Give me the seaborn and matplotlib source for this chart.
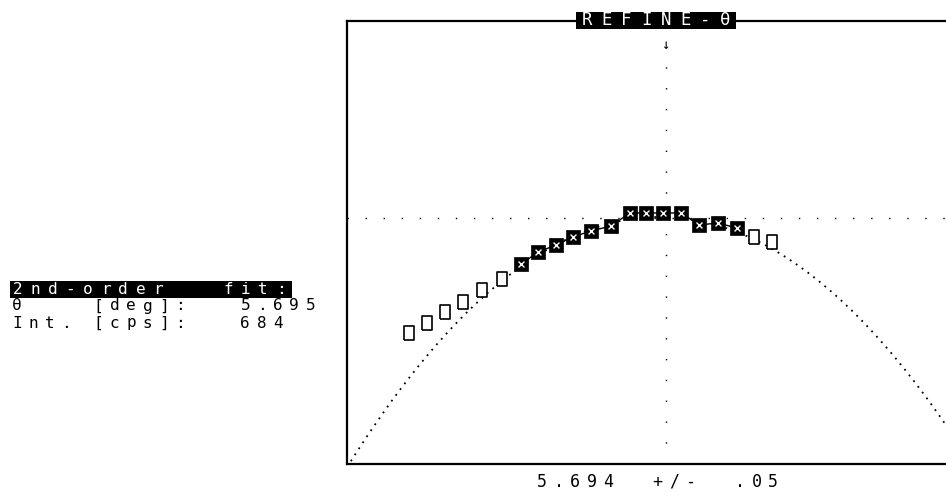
import numpy as np
import pandas as pd
import matplotlib
matplotlib.use("Agg")
import matplotlib.pyplot as plt
import matplotlib.patches as patches
import seaborn as sns

# scan points (theta in deg, intensity in cps)
theta = [5.6544, 5.6574, 5.6604, 5.6634, 5.6665, 5.6699, 5.6731, 5.6759, 5.6789,
         5.6817, 5.6847, 5.6881, 5.6912, 5.6939, 5.6968, 5.6998, 5.7028, 5.7059,
         5.7091, 5.7119, 5.7150]
intensity = [638.0, 642.0, 646.4, 650.4, 655.2, 659.6, 665.6, 670.4, 673.2,
             676.4, 678.8, 680.8, 686.0, 686.0, 686.0, 686.0, 681.2, 682.0,
             680.0, 676.4, 674.4]
in_fit = [False] * 6 + [True] * 13 + [False] * 2

# 2nd-order fit: I = peak - curv * (theta - centre)^2
fit_centre = 5.6963
fit_peak = 684.4
fit_curv = 36600.0

scan_centre = 5.694
scan_half = 0.05
marker_theta = 5.6973
ref_level = 684.0

title_text = "REFINE-θ"
fit_lines = ["2nd-order   fit:", "θ    [deg]:   5.695", "Int. [cps]:   684"]
range_text = "5.694  +/-  .05"

W, H = 946, 493
MONO = ["DejaVu Sans Mono", "DejaVu Sans"]

sns.set_style("white")
plt.rcParams["font.family"] = MONO

fig = plt.figure(figsize=(W / 100, H / 100), dpi=100)
ax = fig.add_axes([347 / W, 1 - 464 / H, (W - 347) / W, (464 - 21) / H])

df = pd.DataFrame({"theta": theta, "cps": intensity, "fit": in_fit})

# fitted curve
grid = np.linspace(scan_centre - scan_half, scan_centre + scan_half, 400)
curve = pd.DataFrame({"theta": grid, "cps": fit_peak - fit_curv * (grid - fit_centre) ** 2})
sns.lineplot(data=curve, x="theta", y="cps", ax=ax, color="black", lw=1.3,
             linestyle=(0, (1, 3)), zorder=2)

# reference cross-hair
ax.axhline(ref_level, color="black", lw=1, linestyle=(0, (1, 12)), zorder=1)
ax.plot([marker_theta, marker_theta], [585.6, 751.0], color="black", lw=1,
        linestyle=(0, (1, 14)), zorder=1)

used = df[df["fit"]]
unused = df[~df["fit"]]

sns.lineplot(data=used, x="theta", y="cps", ax=ax, color="black", lw=1, zorder=3)
rect = [(-0.7, -1), (0.7, -1), (0.7, 1), (-0.7, 1), (-0.7, -1)]
sns.scatterplot(data=unused, x="theta", y="cps", ax=ax, marker=rect, s=90,
                facecolor="white", edgecolor="black", linewidth=1.2, zorder=4)
sns.scatterplot(data=used, x="theta", y="cps", ax=ax, marker="s", s=90,
                color="black", edgecolor="black", linewidth=0.5, zorder=4)
sns.scatterplot(data=used, x="theta", y="cps", ax=ax, marker="x", s=18,
                color="white", linewidth=1.0, zorder=5)

ax.set_xlim(scan_centre - scan_half, scan_centre + scan_half)
ax.set_ylim(585.6, 762.8)
ax.set_xticks([])
ax.set_yticks([])
ax.set_xlabel("")
ax.set_ylabel("")
for side in ["left", "top", "bottom"]:
    ax.spines[side].set_visible(True)
    ax.spines[side].set_color("black")
    ax.spines[side].set_linewidth(1.6)
ax.spines["right"].set_visible(False)


def put_chars(s, x0, y, pitch, color="black", size=11.5):
    # fixed-pitch text, one glyph per cell, in figure pixels
    for i, ch in enumerate(s):
        if ch == " ":
            continue
        fig.text((x0 + i * pitch) / W, 1 - y / H, ch, ha="center", va="center",
                 color=color, fontsize=size, family=MONO, zorder=10)


def put_box(x0, y0, x1, y1):
    fig.patches.append(patches.Rectangle((x0 / W, 1 - y1 / H), (x1 - x0) / W,
                                         (y1 - y0) / H, transform=fig.transFigure,
                                         facecolor="black", edgecolor="none",
                                         zorder=5))


# title box on the top frame
put_box(576, 12, 736, 29)
put_chars(title_text, 587, 20, 19.7, color="white", size=12.5)
put_chars("↓", 665, 45, 10, size=10)

# fit result block
put_box(10, 281, 292, 298)
put_chars(fit_lines[0], 18, 289, 17.5, color="white")
put_chars(fit_lines[1], 17, 306, 16.3)
put_chars(fit_lines[2], 17, 323, 16.3)

# scan range below the frame
put_chars(range_text, 542, 482, 16.5, size=12)

fig.savefig("out.png", dpi=100, facecolor="white")
